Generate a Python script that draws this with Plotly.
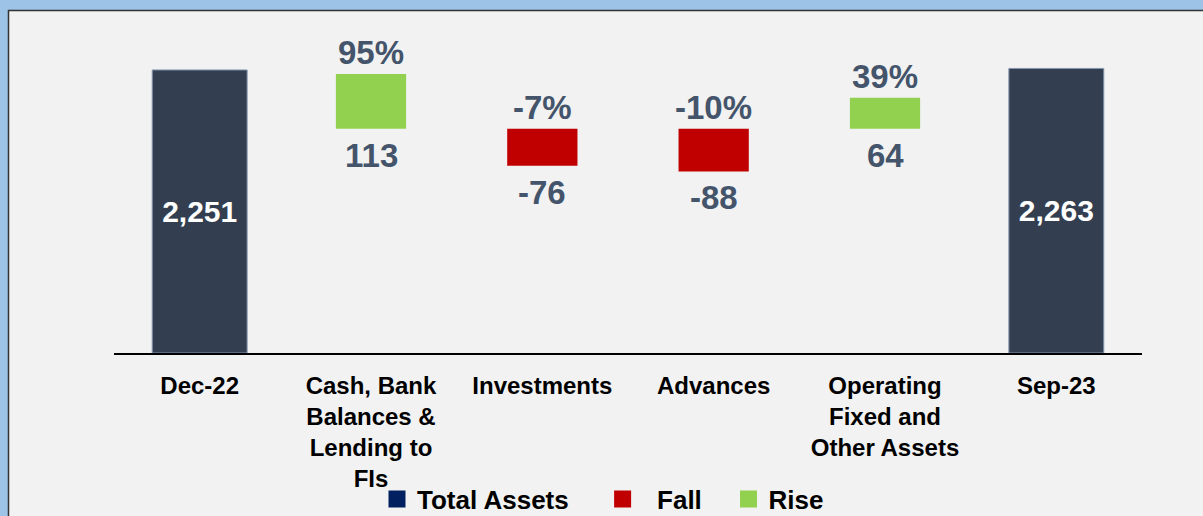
import plotly.graph_objects as go

# ---- data ----
categories = ["Dec-22", "Cash, Bank Balances & Lending to FIs", "Investments",
              "Advances", "Operating Fixed and Other Assets", "Sep-23"]
tick_labels = ["Dec-22", "Cash, Bank<br>Balances &<br>Lending to<br>FIs", "Investments",
               "Advances", "Operating<br>Fixed and<br>Other Assets", "Sep-23"]
total_categories = ["Dec-22", "Sep-23"]
total_values = [2251, 2263]
change_categories = ["Cash, Bank Balances & Lending to FIs", "Investments",
                     "Advances", "Operating Fixed and Other Assets"]
change_values = [113, -76, -88, 64]
change_pct = [95, -7, -10, 39]
legend_names = ["Total Assets", "Fall", "Rise"]

# ---- styles ----
FONT = "Arial, Liberation Sans, sans-serif"
BAR_DARK = "#333f50"
RED = "#c00000"
GREEN = "#92d050"
NAVY = "#002060"
LABEL = "#44546a"
NB = "\u00a0"
legend_pad = [("", NB * 4), (NB * 2, NB * 3), ("", "")]

fig = go.Figure()

fig.add_trace(go.Bar(
    x=total_categories, y=total_values, width=0.554,
    marker=dict(color=BAR_DARK, line=dict(color="#8497b0", width=1)),
    texttemplate="%{y:,}", textposition="inside", insidetextanchor="middle",
    textangle=0, constraintext="none",
    textfont=dict(family=FONT, size=30, color="white", weight="bold"),
    showlegend=False, hoverinfo="skip",
))

fig.add_trace(go.Bar(
    x=change_categories, y=change_values, width=0.41, yaxis="y2",
    marker=dict(color=[GREEN if v > 0 else RED for v in change_values], line=dict(width=0)),
    showlegend=False, hoverinfo="skip",
))

# legend-only entries
for name, col, (pre, post_) in zip(legend_names, [NAVY, RED, GREEN], legend_pad):
    fig.add_trace(go.Bar(x=[None], y=[None], name=pre + name + post_,
                         marker=dict(color=col, line=dict(color=col, width=5))))

annotations = []
for c, v, p in zip(change_categories, change_values, change_pct):
    annotations.append(dict(
        x=c, y=max(v, 0), xref="x", yref="y2", text=f"{p}%", showarrow=False,
        yanchor="bottom", yshift=1,
        font=dict(family=FONT, size=33, color=LABEL, weight="bold")))
    annotations.append(dict(
        x=c, y=min(v, 0), xref="x", yref="y2", text=f"{v}", showarrow=False,
        yanchor="top", yshift=-6,
        font=dict(family=FONT, size=33, color=LABEL, weight="bold")))

# frame panel (pixel -> paper coords)
L, R, T, B = 114, 61, 38, 163
W, H = 1203, 516
pw, ph = W - L - R, H - T - B
def px(xp): return (xp - L) / pw
def py(yp): return (H - B - yp) / ph

shapes = [dict(type="rect", xref="paper", yref="paper", layer="below",
               x0=px(8.5), x1=px(1215), y0=py(10.5), y1=py(530),
               fillcolor="#f2f2f2", line=dict(color="#333333", width=1.5))]

fig.update_layout(
    width=W, height=H, autosize=False,
    margin=dict(l=L, r=R, t=T, b=B, pad=0, autoexpand=False),
    paper_bgcolor="#9dc3e6", plot_bgcolor="rgba(0,0,0,0)",
    barmode="overlay",
    shapes=shapes, annotations=annotations,
    xaxis=dict(categoryorder="array", categoryarray=categories,
               tickvals=categories, ticktext=tick_labels,
               range=[-0.5, 5.5], automargin=False,
               showline=True, linecolor="#000000", linewidth=1.5,
               showgrid=False, zeroline=False, ticks="", ticklabelstandoff=10,
               tickfont=dict(family=FONT, size=24, color="black", weight="bold")),
    yaxis=dict(range=[0, 2505], visible=False, showgrid=False),
    yaxis2=dict(range=[-463, 187.6], overlaying="y", visible=False, showgrid=False),
    legend=dict(orientation="h", x=px(603), xanchor="center", y=py(499), yanchor="middle",
                bgcolor="rgba(0,0,0,0)",
                font=dict(family=FONT, size=26, color="black", weight="bold")),
    showlegend=True,
)

post = ("document.documentElement.style.margin='0';document.body.style.margin='0';"
        "document.body.style.overflow='hidden';")

fig.write_html("out.html", config={"responsive": False, "displayModeBar": False}, post_script=post)
